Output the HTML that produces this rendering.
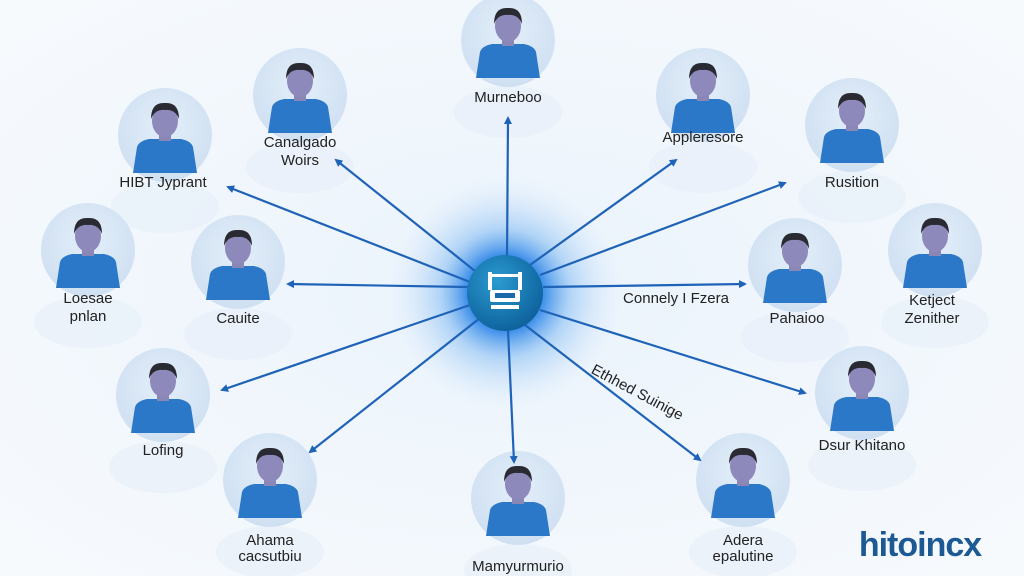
<!DOCTYPE html>
<html><head><style>
html,body{margin:0;padding:0;width:1024px;height:576px;overflow:hidden;background:#f3f8fd}
text{font-family:"Liberation Sans",sans-serif;fill:#222;font-size:15px;text-anchor:middle}
</style></head><body>
<svg width="1024" height="576" viewBox="0 0 1024 576" style="display:block">
<defs>
<radialGradient id="bg" cx="50%" cy="50%" r="70%">
<stop offset="0" stop-color="#eaf3fc"/><stop offset="1" stop-color="#f7fafd"/></radialGradient>
<radialGradient id="glow" cx="50%" cy="50%" r="50%">
<stop offset="0.3" stop-color="#1a7ae6" stop-opacity="0.9"/><stop offset="0.55" stop-color="#6aaef0" stop-opacity="0.45"/><stop offset="1" stop-color="#d8e9fa" stop-opacity="0"/></radialGradient>
<radialGradient id="hub" cx="40%" cy="35%" r="70%">
<stop offset="0" stop-color="#2a9bd0"/><stop offset="1" stop-color="#0d5f9a"/></radialGradient>
<radialGradient id="nd" cx="50%" cy="40%" r="60%">
<stop offset="0" stop-color="#e3eef9"/><stop offset="1" stop-color="#cfe0f2"/></radialGradient>
<marker id="ar" markerWidth="8" markerHeight="8" refX="6" refY="4" orient="auto" markerUnits="userSpaceOnUse">
<path d="M0,0 L8,4 L0,8 z" fill="#1f63b8"/></marker>
<g id="p">
<ellipse cx="0" cy="72" rx="54" ry="26" fill="#e8f0f9" opacity="0.8"/>
<circle cx="0" cy="0" r="47" fill="url(#nd)"/>
<path d="M-32,38 L-28,12 Q-26,6 -16,4 L16,4 Q26,6 28,12 L32,38 Z" fill="#2b78c8"/>
<rect x="-6" y="-4" width="12" height="10" fill="#8a86b6"/>
<ellipse cx="0" cy="-14" rx="13" ry="16" fill="#8e89bb"/>
<path d="M-14,-16 Q-14,-33 0,-32 Q14,-33 14,-16 Q10,-26 0,-25 Q-10,-26 -14,-16Z" fill="#2a2a33"/>
</g>
</defs>
<rect width="1024" height="576" fill="url(#bg)"/>
<circle cx="505" cy="293" r="118" fill="url(#glow)"/>
<use href="#p" x="508" y="40"/><use href="#p" x="300" y="95"/><use href="#p" x="165" y="135"/>
<use href="#p" x="703" y="95"/><use href="#p" x="852" y="125"/><use href="#p" x="88" y="250"/>
<use href="#p" x="238" y="262"/><use href="#p" x="795" y="265"/><use href="#p" x="935" y="250"/>
<use href="#p" x="163" y="395"/><use href="#p" x="270" y="480"/><use href="#p" x="518" y="498"/>
<use href="#p" x="743" y="480"/><use href="#p" x="862" y="393"/>
<g stroke="#1f63b8" stroke-width="2.2" marker-end="url(#ar)">
<line x1="507" y1="260" x2="508" y2="118"/>
<line x1="480" y1="275" x2="336" y2="160"/>
<line x1="470" y1="282" x2="228" y2="187"/>
<line x1="468" y1="287" x2="288" y2="284"/>
<line x1="470" y1="305" x2="222" y2="390"/>
<line x1="480" y1="318" x2="310" y2="452"/>
<line x1="508" y1="330" x2="514" y2="462"/>
<line x1="525" y1="325" x2="700" y2="460"/>
<line x1="540" y1="310" x2="805" y2="393"/>
<line x1="543" y1="287" x2="745" y2="284"/>
<line x1="540" y1="275" x2="785" y2="183"/>
<line x1="530" y1="265" x2="676" y2="160"/>
</g>
<circle cx="505" cy="293" r="38" fill="url(#hub)"/>
<g fill="#fff"><rect x="488" y="272" width="4" height="18"/><rect x="518" y="272" width="4" height="18"/><rect x="492" y="274" width="26" height="3"/><rect x="490" y="290" width="30" height="12" rx="2"/><rect x="491" y="305" width="28" height="4"/></g>
<rect x="495" y="293" width="20" height="5" fill="#1a6aa8"/>
<text x="508" y="102">Murneboo</text>
<text x="300" y="147">Canalgado</text><text x="300" y="165">Woirs</text>
<text x="163" y="187">HIBT Jyprant</text>
<text x="703" y="142">Appleresore</text>
<text x="852" y="187">Rusition</text>
<text x="88" y="303">Loesae</text><text x="88" y="321">pnlan</text>
<text x="238" y="323">Cauite</text>
<text x="797" y="323">Pahaioo</text>
<text x="932" y="305">Ketject</text><text x="932" y="323">Zenither</text>
<text x="163" y="455">Lofing</text>
<text x="270" y="545">Ahama</text><text x="270" y="561">cacsutbiu</text>
<text x="518" y="571">Mamyurmurio</text>
<text x="743" y="545">Adera</text><text x="743" y="561">epalutine</text>
<text x="862" y="450">Dsur Khitano</text>
<text x="676" y="303">Connely I Fzera</text>
<text x="637" y="397" transform="rotate(28 637 393)">Ethhed Suinige</text>
<text x="920" y="556" style="font-size:34px;font-weight:bold;fill:#1d5a94;letter-spacing:-1px">hitoincx</text>
</svg>
</body></html>
